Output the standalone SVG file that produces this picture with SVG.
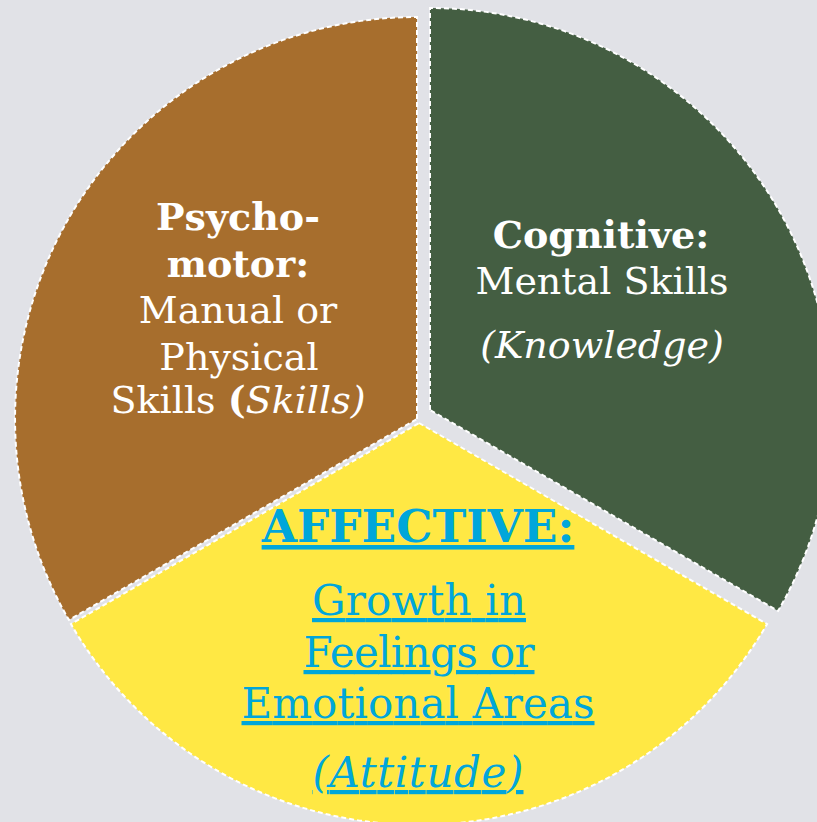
<svg xmlns="http://www.w3.org/2000/svg" width="817" height="822" viewBox="0 0 817 822">
<style>
.slice{stroke:#ffffff;stroke-width:2;stroke-dasharray:5 3}
.t{font-family:"DejaVu Serif","Liberation Serif",serif;text-anchor:middle}
.w{fill:#ffffff;font-size:38px}
.b{font-weight:bold}
.i{font-style:italic}
.y{fill:#00A6DA;font-size:42px;text-decoration:underline;text-decoration-thickness:3px}
</style>
<rect width="817" height="822" fill="#E1E2E7"/>
<g id="psychomotor">
<path class="slice" fill="#A76E2D" d="M417,419 L417,17 A402,402 0 0 0 68.9,620 Z"/>
<text class="t w b" x="238" y="230">Psycho-</text>
<text class="t w b" x="238" y="277">motor:</text>
<text class="t w" x="238" y="323">Manual or</text>
<text class="t w" x="239" y="370">Physical</text>
<text class="t w" x="238" y="413">Skills <tspan class="b">(</tspan><tspan class="i">Skills)</tspan></text>
</g>
<g id="cognitive">
<path class="slice" fill="#445E42" d="M430,410 L430,8 A402,402 0 0 1 778.1,611 Z"/>
<text class="t w b" x="601" y="248">Cognitive:</text>
<text class="t w" x="602" y="294">Mental Skills</text>
<text class="t w i" x="602" y="358">(Knowledge)</text>
</g>
<g id="affective">
<path class="slice" fill="#FFE844" d="M419,423 L767.1,624 A402,402 0 0 1 70.9,624 Z"/>
<text class="t y b" x="418" y="542" style="font-size:45.5px">AFFECTIVE:</text>
<text class="t y" x="419" y="615" textLength="214">Growth in</text>
<text class="t y" x="419" y="667" textLength="231">Feelings or</text>
<text class="t y" x="418" y="718" textLength="353">Emotional Areas</text>
<text class="t y i" x="418" y="787" textLength="211">(Attitude)</text>
</g>
</svg>
